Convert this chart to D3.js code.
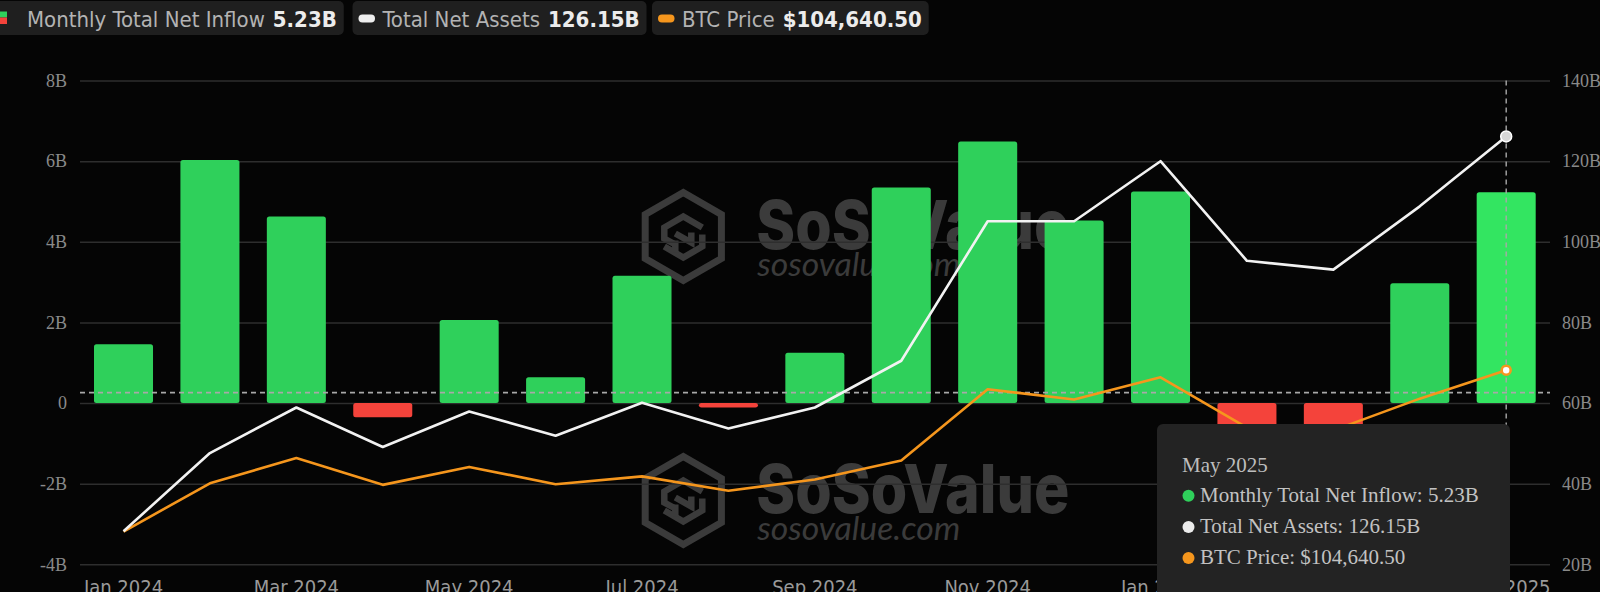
<!DOCTYPE html>
<html><head><meta charset="utf-8">
<script src="https://cdn.jsdelivr.net/npm/d3@7/dist/d3.min.js"></script>
<style>html,body{margin:0;padding:0;background:#050505;overflow:hidden}</style>
</head><body><svg id="c" width="1600" height="592"></svg>
<script>
// ---------- DATA ----------
const months = ["Jan 2024","Feb 2024","Mar 2024","Apr 2024","May 2024","Jun 2024","Jul 2024","Aug 2024","Sep 2024","Oct 2024","Nov 2024","Dec 2024","Jan 2025","Feb 2025","Mar 2025","Apr 2025","May 2025"];
const netInflow = [1.46, 6.03, 4.63, -0.35, 2.06, 0.64, 3.16, -0.11, 1.25, 5.35, 6.49, 4.53, 5.25, -3.56, -0.77, 2.97, 5.23]; // B USD
const totalNetAssets = [28.2, 47.6, 58.9, 49.1, 57.9, 51.9, 60.1, 53.7, 58.9, 70.5, 105.1, 105.1, 120.0, 95.3, 93.1, 108.8, 126.15]; // B USD
const btcPrice = [42600, 61150, 70900, 60550, 67450, 60800, 63800, 58300, 62600, 69900, 97300, 93400, 101900, 82600, 81500, 93700, 104640.5];
const leftTicks = [-4, -2, 0, 2, 4, 6, 8];
const rightTicks = [20, 40, 60, 80, 100, 120, 140];
const xTickLabels = ["Jan 2024","Mar 2024","May 2024","Jul 2024","Sep 2024","Nov 2024","Jan 2025","Mar 2025","May 2025"];
const btcDomain = [30000, 216000];
const legendItems = [
  {label: "Monthly Total Net Inflow", value: "5.23B"},
  {label: "Total Net Assets", value: "126.15B"},
  {label: "BTC Price", value: "$104,640.50"}
];
const tooltipTitle = "May 2025";
const tooltipRows = ["Monthly Total Net Inflow: 5.23B", "Total Net Assets: 126.15B", "BTC Price: $104,640.50"];
const hoverIndex = 16;
const crosshairValue = 0.26;

// ---------- SETUP ----------
const W = 1600, H = 592;
const svg = d3.select("#c");
svg.append("rect").attr("width", W).attr("height", H).attr("fill", "#050505");

const plotLeft = 80.3, plotRight = 1549.4, plotTop = 80.6, plotBottom = 564.3;
const x = d3.scaleBand().domain(months).range([plotLeft, plotRight]).paddingInner(0.317).paddingOuter(0.1585);
const bw = x.bandwidth();
const cx = m => x(m) + bw / 2;
const yL = d3.scaleLinear().domain([-4, 8]).range([plotBottom, plotTop]);
const yR = d3.scaleLinear().domain([20, 140]).range([plotBottom, plotTop]);
const yP = d3.scaleLinear().domain(btcDomain).range([plotBottom, plotTop]);

const GREEN = "#2fd05b", GREEN_HI = "#33e561", RED = "#f4433b", ORANGE = "#f5961d", WHITE = "#f2f2f2";
const WM = "#3b3b3b";

// ---------- WATERMARKS ----------
function watermark(hx, hy) {
  const g = svg.append("g").attr("transform", `translate(${hx},${hy})`);
  const R = 44, hw = R * Math.cos(Math.PI / 6);
  const hex = [[0,-R],[hw,-R/2],[hw,R/2],[0,R],[-hw,R/2],[-hw,-R/2]];
  g.append("path").attr("d", "M" + hex.map(p => p.join(",")).join("L") + "Z")
    .attr("fill", "none").attr("stroke", WM).attr("stroke-width", 7).attr("stroke-linejoin", "miter");
  const inner = ["M 19 -9 L 0 -20 L -19 -9 L -19 2 L -8 8",
                 "M -8 -3 L 8 6 L 8 -4",
                 "M 19 -2 V 10 L 0 21 L -19 10",
                 "M -8 16 V 4"];
  inner.forEach(d => g.append("path").attr("d", d).attr("fill", "none").attr("stroke", WM)
    .attr("stroke-width", 6.5).attr("stroke-linejoin", "miter"));
  g.append("text").attr("x", 73).attr("y", 12).text("SoSoValue")
    .attr("font-family", "Inter, 'DejaVu Sans'").attr("font-weight", 800).attr("font-size", 68)
    .attr("textLength", 313).attr("lengthAdjust", "spacingAndGlyphs").attr("fill", WM);
  g.append("text").attr("x", 74).attr("y", 39.5).text("sosovalue.com")
    .attr("font-family", "Lato, 'Open Sans'").attr("font-style", "italic").attr("font-weight", 400).attr("font-size", 32)
    .attr("textLength", 203).attr("lengthAdjust", "spacingAndGlyphs").attr("fill", WM);
}
watermark(683.3, 236.5);
watermark(683.3, 500.5);

// ---------- GRID ----------
const grid = svg.append("g").attr("transform", `translate(80,0)`)
  .call(d3.axisLeft(yL).tickValues(leftTicks).tickSize(-(1550 - 80)).tickFormat(""));
grid.select(".domain").remove();
grid.selectAll("line").attr("stroke", "#2e2e2e").attr("stroke-width", 1.5);

// ---------- AXES ----------
const fmtL = v => v === 0 ? "0" : v + "B";
const axL = svg.append("g").attr("transform", "translate(80,0)")
  .call(d3.axisLeft(yL).tickValues(leftTicks).tickSize(0).tickPadding(13).tickFormat(fmtL));
axL.select(".domain").remove();
axL.selectAll("text").attr("font-family", "'Liberation Serif', 'DejaVu Serif', serif").attr("font-size", 18).attr("fill", "#8a8a8a");

const axR = svg.append("g").attr("transform", "translate(1550,0)")
  .call(d3.axisRight(yR).tickValues(rightTicks).tickSize(0).tickPadding(12).tickFormat(v => v + "B"));
axR.select(".domain").remove();
axR.selectAll("text").attr("font-family", "'Liberation Serif', 'DejaVu Serif', serif").attr("font-size", 18).attr("fill", "#8a8a8a");

const axB = svg.append("g").attr("transform", `translate(0,${plotBottom})`)
  .call(d3.axisBottom(x).tickValues(xTickLabels).tickSize(0).tickPadding(15.5));
axB.select(".domain").remove();
axB.selectAll("text").attr("font-family", "'DejaVu Sans Condensed', 'DejaVu Sans', sans-serif").attr("font-size", 20).attr("fill", "#9a9a9a");

// ---------- BARS ----------
svg.append("g").selectAll("rect").data(months).join("rect")
  .attr("x", m => x(m))
  .attr("width", bw)
  .attr("y", (m, i) => Math.min(yL(netInflow[i]), yL(0)))
  .attr("height", (m, i) => Math.abs(yL(netInflow[i]) - yL(0)))
  .attr("rx", 2.5)
  .attr("fill", (m, i) => netInflow[i] < 0 ? RED : (i === hoverIndex ? GREEN_HI : GREEN));

// ---------- CROSSHAIR ----------
svg.append("line").attr("x1", 80).attr("x2", 1550).attr("y1", yL(crosshairValue)).attr("y2", yL(crosshairValue))
  .attr("stroke", "#a8a8a8").attr("stroke-width", 1.6).attr("stroke-dasharray", "5,4");
svg.append("line").attr("x1", cx(months[hoverIndex])).attr("x2", cx(months[hoverIndex]))
  .attr("y1", plotTop).attr("y2", H).attr("stroke", "#a8a8a8").attr("stroke-width", 1.4).attr("stroke-dasharray", "5,4");

// ---------- LINES ----------
const lineTNA = d3.line().x((d, i) => cx(months[i])).y(d => yR(d));
const lineBTC = d3.line().x((d, i) => cx(months[i])).y(d => yP(d));
svg.append("path").attr("d", lineBTC(btcPrice)).attr("fill", "none").attr("stroke", ORANGE).attr("stroke-width", 2.6).attr("stroke-linejoin", "round");
svg.append("path").attr("d", lineTNA(totalNetAssets)).attr("fill", "none").attr("stroke", WHITE).attr("stroke-width", 2.6).attr("stroke-linejoin", "round");

svg.append("circle").attr("cx", cx(months[hoverIndex])).attr("cy", yR(totalNetAssets[hoverIndex])).attr("r", 5.5)
  .attr("fill", "#d6d6d6").attr("stroke", "#ffffff").attr("stroke-width", 1.5);
svg.append("circle").attr("cx", cx(months[hoverIndex])).attr("cy", yP(btcPrice[hoverIndex])).attr("r", 4.5)
  .attr("fill", "#ffffff").attr("stroke", ORANGE).attr("stroke-width", 2.6);

// ---------- TOOLTIP ----------
const tt = svg.append("g");
tt.append("rect").attr("x", 1157).attr("y", 424).attr("width", 353).attr("height", 200).attr("rx", 6).attr("fill", "#232323");
const ttFont = "'Liberation Serif', 'DejaVu Serif', serif";
tt.append("text").attr("x", 1182).attr("y", 471.5).text(tooltipTitle)
  .attr("font-family", ttFont).attr("font-size", 21).attr("fill", "#bdbdbd");
const dotColors = [GREEN, "#ececec", ORANGE];
tooltipRows.forEach((t, i) => {
  const by = 502 + i * 31.2;
  tt.append("circle").attr("cx", 1188.5).attr("cy", by - 6.3).attr("r", 6).attr("fill", dotColors[i]);
  tt.append("text").attr("x", 1200).attr("y", by).text(t)
    .attr("font-family", ttFont).attr("font-size", 21).attr("fill", "#c2c2c2");
});

// ---------- LEGEND ----------
const legFont = "'DejaVu Sans Condensed', 'DejaVu Sans', sans-serif";
const boxStarts = [-6, 352.5, 652];
legendItems.forEach((it, i) => {
  const g = svg.append("g");
  const bx = boxStarts[i];
  const box = g.append("rect").attr("x", bx).attr("y", 1).attr("height", 34).attr("rx", 5).attr("fill", "#1f1f1f");
  let tx;
  if (i === 0) {
    g.append("rect").attr("x", 0).attr("y", 11.5).attr("width", 7).attr("height", 6).attr("fill", GREEN);
    g.append("rect").attr("x", 0).attr("y", 17.5).attr("width", 7).attr("height", 6.5).attr("fill", RED);
    tx = 27;
  } else {
    g.append("rect").attr("x", bx + 6).attr("y", 14.5).attr("width", 16.5).attr("height", 8).attr("rx", 4)
      .attr("fill", i === 1 ? "#eeeeee" : ORANGE);
    tx = bx + 30;
  }
  const lt = g.append("text").attr("x", tx).attr("y", 26.5).text(it.label)
    .attr("font-family", legFont).attr("font-size", 22).attr("fill", "#b3b3b3");
  const lw = lt.node().getComputedTextLength();
  const vt = g.append("text").attr("x", tx + lw + 8).attr("y", 26.5).text(it.value)
    .attr("font-family", legFont).attr("font-size", 22).attr("font-weight", "bold").attr("fill", "#ececec");
  const vw = vt.node().getComputedTextLength();
  box.attr("width", tx + lw + 8 + vw + 7 - bx);
});
</script>
</body></html>
